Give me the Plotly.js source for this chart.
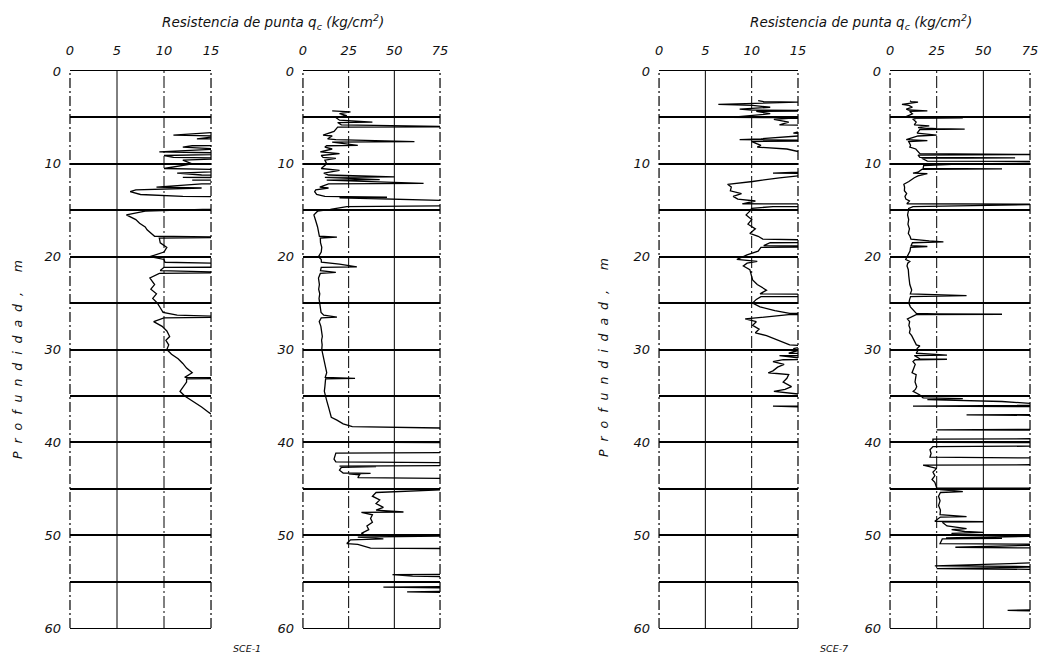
<!DOCTYPE html>
<html><head><meta charset="utf-8">
<script src="https://cdn.plot.ly/plotly-3.0.1.min.js"></script>
<style>html,body{margin:0;padding:0;background:#fff}#c{width:1040px;height:657px}</style>
</head><body><div id="c"></div>
<script>
// SCE-1 : depth (m) and cone resistance qc (kg/cm2); 90 = off-scale
const depth1 = [4.3,4.4,4.6,4.8,5.0,5.3,5.5,5.55,5.8,6.0,6.05,6.5,6.9,7.0,7.3,7.4,7.6,7.65,8.0,8.05,8.2,8.4,8.7,8.9,9.1,9.3,9.4,9.6,10.0,10.5,10.7,11.0,11.2,11.4,11.45,11.7,11.75,12.1,12.15,12.5,12.6,12.8,13.0,13.3,13.5,13.6,13.65,14.0,14.5,14.6,14.9,15.1,15.5,16.0,16.4,16.8,17.1,17.8,17.9,18.0,18.5,19.0,19.5,20.0,20.3,20.6,20.8,21.1,21.15,21.5,21.7,21.8,22.3,23.0,23.5,24.0,24.5,25.0,25.5,26.0,26.3,26.5,26.6,27.0,27.5,28.0,28.6,29.0,29.5,30.0,30.5,31.0,31.5,32.0,32.5,33.0,33.1,33.15,33.5,34.0,34.5,35.0,35.5,36.2,36.8,37.3,37.6,38.0,38.3,38.5,39.9,40.0,40.05,41.0,41.1,41.15,41.8,42.1,42.2,42.5,42.55,42.6,42.7,43.0,43.3,43.35,43.4,43.5,43.8,43.9,45.0,45.4,45.8,46.2,46.6,47.0,47.3,47.5,47.55,47.8,48.2,48.6,49.0,49.4,49.8,50.0,50.05,50.2,50.4,50.5,50.9,51.0,51.4,51.45,54.2,54.25,54.4,54.5,55.5,55.6,55.7,56.0,56.1,56.2];
const qc1 = [16,26,20,24,18,20,38,19,21,90,19,17,11,16,13.5,18,61,16,30,13,12,16,9.5,20,10,11,18,12,13,10,20,11.4,14,50,12,42,13,66,14,9.2,14,7,6.4,7.5,12,46,20,90,90,24,15,8,6,7,7.4,8,8.2,9,18.6,9.5,9.6,10.3,10,8.5,10,10.1,20,29.5,10,9.6,18,9.5,8.5,9,8.6,9.2,8.8,9.3,9.6,9.9,11.4,18.6,10,8.9,9.8,10.3,10.6,10.2,10.5,10.3,10.8,11.5,12,12.4,13,12.2,28.5,12.4,12.4,12,11.7,12.2,13,14,14.8,15.5,18.6,22,27,90,90,46,90,90,90,18,17,18,90,90,20,40,21,20,22,37,25,31,30,90,90,40,38,42,40,44,40,55,32,38,37,38,35,36,32,34,90,30,44,26,24,30,37,90,90,49,60,90,90,44,90,90,57,90];

// SCE-7
const depth7 = [3.2,3.3,3.35,3.5,3.6,3.7,3.9,4.1,4.2,4.3,4.35,4.6,5.0,5.05,5.1,5.2,5.5,5.8,5.9,6.1,6.2,6.25,6.3,6.7,6.9,7.0,7.3,7.4,7.5,7.6,8.0,8.2,8.4,8.6,8.9,9.0,9.05,9.3,9.35,9.4,9.7,9.75,9.9,10.0,10.2,10.5,10.55,10.6,10.9,11.0,11.05,11.3,11.5,11.9,12.0,12.2,12.5,12.9,13.2,13.5,13.8,14.0,14.3,14.35,14.6,14.8,15.1,15.5,16.0,16.5,17.0,17.5,17.8,18.1,18.3,18.4,18.5,18.8,18.9,19.0,19.4,19.8,20.3,20.5,20.7,21.0,21.4,22.0,22.5,23.0,23.6,24.0,24.2,24.3,24.6,25.0,25.4,25.8,26.1,26.15,26.2,26.25,26.7,27.0,27.4,27.8,28.2,28.5,29.0,29.5,29.6,29.9,30.1,30.4,30.6,30.65,31.0,31.05,31.1,31.3,31.6,31.9,32.3,32.5,32.7,33.1,33.5,34.0,34.3,34.5,34.9,35.2,35.3,35.4,35.6,36.0,36.1,36.15,37.0,37.05,37.1,38.6,38.65,38.7,39.6,39.65,40.0,40.05,40.4,40.45,40.8,41.2,41.6,41.7,42.4,42.45,42.8,43.2,43.6,44.0,44.3,44.9,44.95,45.1,45.3,45.4,45.8,46.3,46.8,47.3,47.8,48.0,48.05,48.5,48.55,48.6,49.0,49.3,49.4,49.6,49.7,49.8,50.0,50.05,50.3,50.35,50.4,50.9,51.0,51.3,51.4,52.9,53.3,53.4,53.6,53.7,58.0,58.1,58.2];
const qc7 = [10.7,11.3,15,10,6.4,10.1,12,8.7,10,20,10.5,12,7.7,39,14,12.4,14,13,21,15,25,40,16,14.5,25,15,11,8.7,20,10,11,10.6,13.8,14.5,16,90,15,16,67,17,20,90,90,39,18,17.7,60,17,15,12.3,20,15,13,10.1,9,7.4,7.8,7.7,8.9,8,8.5,10.4,9,90,12.3,10,9.8,9.4,10,9.6,10.4,9.8,10.7,11.2,21,28.6,12,11.3,20,11,10.7,9.5,8.4,10.6,9.5,9.1,9.8,10,10.1,10.6,11.6,10.9,41,11,10.5,10.1,10.9,12.5,14.1,25,60,14,9.3,10.5,10.1,10.8,10.4,11.6,12.8,14.1,16,14.5,15,14,30.5,13,16,30.5,13.4,12.3,13.5,12.8,12.3,11.8,14,13.8,13.4,14.3,13.6,12.4,16,17.7,39,20,60,90,12.3,90,90,41,90,90,25,90,90,23,23,90,90,23,21.4,22,21.4,90,90,17.7,25,23,24,22.5,24,25,90,26.8,39,27,26,26.8,26,27,26.8,41,27,24,50,28,30.5,41,33,40,50,33,35,90,30,60,28,26.8,90,35,90,90,24,90,25,90,90,63,90];

const lowRange = [0, 15], highRange = [0, 75];
const lowTicks = [0, 5, 10, 15], highTicks = [0, 25, 50, 75];
const lowGridSolid = [5], lowGridDash = [10];
const highGridSolid = [50], highGridDash = [25];
const depthRange = [60, 0];
const depthTicks = [0, 10, 20, 30, 40, 50, 60];
const titleText = 'Resistencia de punta q<sub>c</sub> (kg/cm<sup>2</sup>)';
const yTitleText = 'P\u00a0 r\u00a0 o\u00a0 f\u00a0 u\u00a0 n\u00a0 d\u00a0 i\u00a0 d\u00a0 a\u00a0 d\u00a0 ,\u00a0\u00a0\u00a0\u00a0 m';
const soundings = ['SCE-1', 'SCE-7'];

const F = 'DejaVu Sans';
const ital = {family: F, size: 13, color: '#111', style: 'italic'};

const yDom = [0.0441, 0.8919];
const xDoms = [[0.0673, 0.2029], [0.2913, 0.4231], [0.6337, 0.7673], [0.8558, 0.9904]];

const traces = [];
const panels = [
  {d: depth1, q: qc1, r: lowRange, t: lowTicks, s: lowGridSolid, g: lowGridDash},
  {d: depth1, q: qc1, r: highRange, t: highTicks, s: highGridSolid, g: highGridDash},
  {d: depth7, q: qc7, r: lowRange, t: lowTicks, s: lowGridSolid, g: lowGridDash},
  {d: depth7, q: qc7, r: highRange, t: highTicks, s: highGridSolid, g: highGridDash}
];
const layout = {
  width: 1040, height: 657, margin: {l: 0, r: 0, t: 0, b: 0},
  paper_bgcolor: '#fff', plot_bgcolor: '#fff', showlegend: false,
  shapes: [], annotations: []
};
panels.forEach((p, i) => {
  const n = i + 1, xs = n === 1 ? '' : String(n);
  traces.push({x: p.q, y: p.d, xaxis: 'x' + xs, yaxis: 'y' + xs, type: 'scatter', mode: 'lines',
    line: {color: '#000', width: 1.3}, hoverinfo: 'skip'});
  layout['xaxis' + (n === 1 ? '' : n)] = {
    domain: xDoms[i], anchor: 'y' + xs, side: 'top', range: p.r, tickvals: p.t,
    showgrid: false, zeroline: false, showline: true, mirror: true, linecolor: '#000', linewidth: 1.3,
    ticks: '', ticklabelstandoff: 10, tickfont: ital, fixedrange: true
  };
  layout['yaxis' + (n === 1 ? '' : n)] = {
    domain: yDom, anchor: 'x' + xs, range: depthRange, tickvals: depthTicks,
    showgrid: true, gridcolor: '#000', gridwidth: 2, zeroline: false, showline: false,
    minor: {dtick: 5, tick0: 0, showgrid: true, gridcolor: '#000', gridwidth: 2},
    ticks: '', ticklabelstandoff: 8, tickfont: ital, fixedrange: true
  };
  const xr = 'x' + xs, yd = 'y' + xs + ' domain';
  p.s.forEach(v => layout.shapes.push({type: 'line', xref: xr, yref: yd, x0: v, x1: v, y0: 0, y1: 1,
    line: {color: '#000', width: 1}, layer: 'below'}));
  p.g.forEach(v => layout.shapes.push({type: 'line', xref: xr, yref: yd, x0: v, x1: v, y0: 0, y1: 1,
    line: {color: '#000', width: 1, dash: '12px,3px,2px,3px'}, layer: 'below'}));
  [0, 1].forEach(e => layout.shapes.push({type: 'line', xref: xr + ' domain', yref: yd, x0: e, x1: e, y0: 0, y1: 1,
    line: {color: '#000', width: 1.2, dash: '10px,3px,2px,3px'}, layer: 'below'}));
});

// titles
[[273, 22], [861, 22]].forEach(c => layout.annotations.push({
  xref: 'paper', yref: 'paper', x: c[0] / 1040, y: 1 - c[1] / 657, text: titleText, showarrow: false,
  xanchor: 'center', yanchor: 'middle', font: {family: F, size: 13.5, color: '#111', style: 'italic'}
}));
[[17, 360], [603, 358]].forEach(c => layout.annotations.push({
  xref: 'paper', yref: 'paper', x: c[0] / 1040, y: 1 - c[1] / 657, text: yTitleText, showarrow: false,
  textangle: -90, xanchor: 'center', yanchor: 'middle', font: {family: F, size: 12.5, color: '#111', style: 'italic'}
}));
[[247, 648], [834, 648]].forEach((c, k) => layout.annotations.push({
  xref: 'paper', yref: 'paper', x: c[0] / 1040, y: 1 - c[1] / 657, text: soundings[k], showarrow: false,
  xanchor: 'center', yanchor: 'middle', font: {family: F, size: 9.5, color: '#111', style: 'italic'}
}));

Plotly.newPlot('c', traces, layout, {staticPlot: true, displayModeBar: false});
</script>
</body></html>
